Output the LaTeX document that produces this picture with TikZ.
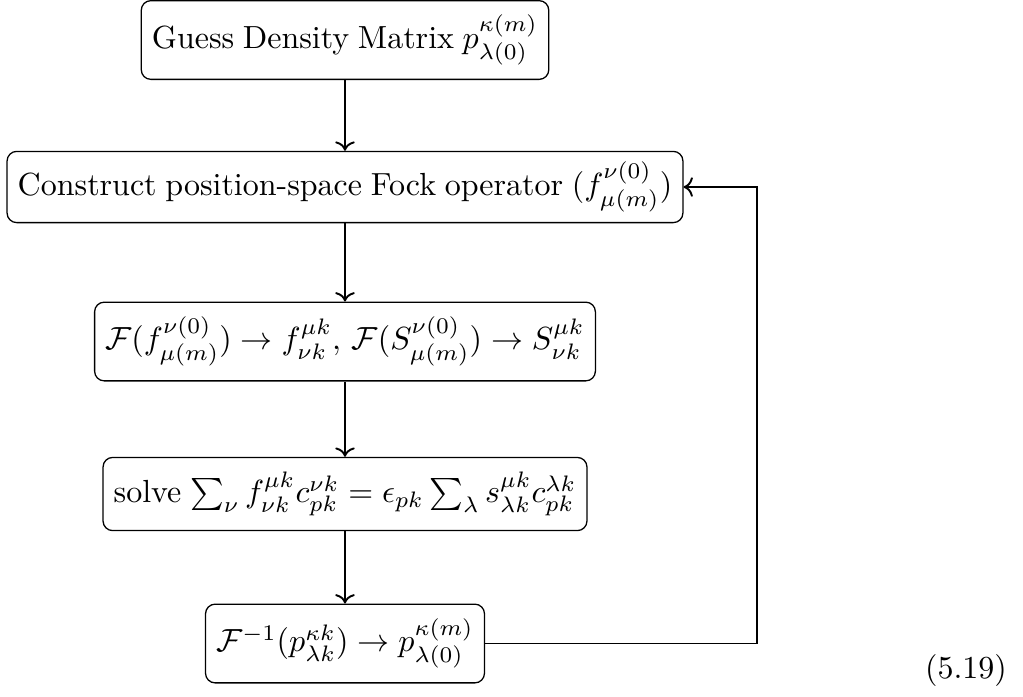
\documentclass[tikz,border=0pt]{standalone}
\usetikzlibrary{arrows.meta}
\begin{document}
\fontdimen2\font=2.7pt
\begin{tikzpicture}[x=0.3125pt, y=-0.3125pt,
  box/.style={draw, rounded corners=3pt, inner xsep=3.33pt, inner ysep=4.5pt, line width=0.4pt},
  arr/.style={->, line width=0.6pt}]
\useasboundingbox (0,0) rectangle (1023,696);
\node[box] (b1) at (345,40) {Guess Density Matrix $p^{\kappa(m)}_{\lambda(0)}$};
\node[box, inner ysep=3.33pt] (b2) at (345,187) {Construct position-space Fock operator $(f^{\nu(0)}_{\mu(m)})$};
\node[box] (b3) at (345,341.5) {$\mathcal{F}(f^{\nu(0)}_{\mu(m)}) \rightarrow f^{\mu k}_{\nu k},\,\mathcal{F}(S^{\nu(0)}_{\mu(m)}) \rightarrow S^{\mu k}_{\nu k}$};
\node[box] (b4) at (345,494) {solve $\sum_\nu f^{\mu k}_{\nu k} c^{\nu k}_{pk} = \epsilon_{pk} \sum_\lambda s^{\mu k}_{\lambda k} c^{\lambda k}_{pk}$};
\node[box] (b5) at (345,643.5) {$\mathcal{F}^{-1}(p^{\kappa k}_{\lambda k}) \rightarrow p^{\kappa(m)}_{\lambda(0)}$};
\node (eq) at (966,670) {(5.19)};
\coordinate (r) at (757,400);
\draw[arr] (b1.south) -- (b2.north);
\draw[arr] (b2.south) -- (b3.north);
\draw[arr] (b3.south) -- (b4.north);
\draw[arr] (b4.south) -- (b5.north);
\draw[arr] (b5.east) -- (b5.east -| r) |- (b2.east);
\end{tikzpicture}
\end{document}
